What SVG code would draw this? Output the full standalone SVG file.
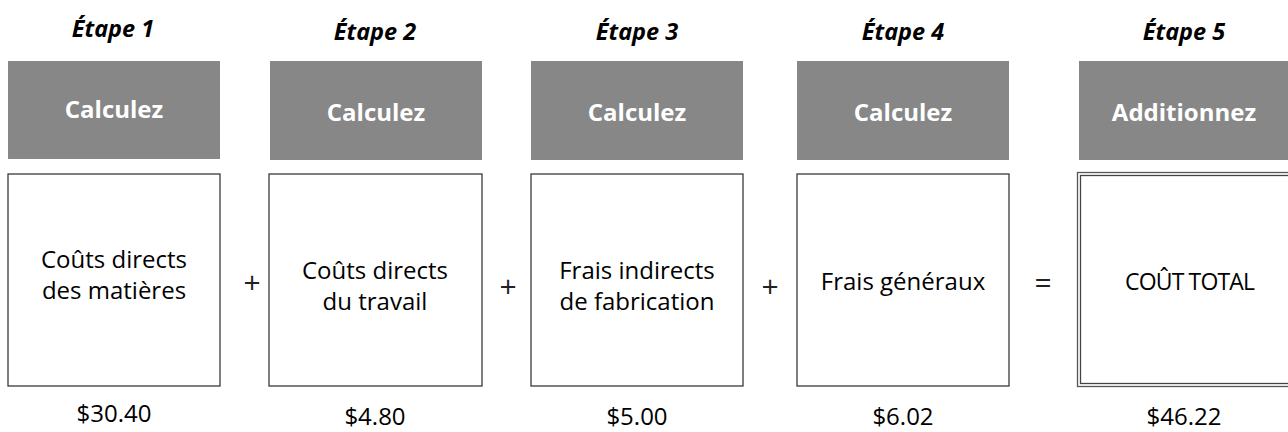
<svg xmlns="http://www.w3.org/2000/svg" width="1288" height="432" viewBox="0 0 1288 432">
<style>
.step{font-family:"Open Sans","Liberation Sans",sans-serif;font-size:23.5px;font-weight:bold;font-style:italic;fill:#000;text-anchor:middle}
.hdr{fill:#878787}
.hdrt{font-family:"Open Sans","Liberation Sans",sans-serif;font-size:24px;font-weight:bold;fill:#fff;text-anchor:middle}
.box{fill:#fff;stroke:#3a3a3a;stroke-width:1.3}
.txt{font-family:"Open Sans","Liberation Sans",sans-serif;font-size:24px;fill:#000;text-anchor:middle}
.op{font-family:"Open Sans","Liberation Sans",sans-serif;font-size:30px;fill:#222;text-anchor:middle}
</style>
<rect width="1288" height="432" fill="#fff"/>
<g id="step1">
<text class="step" x="113" y="37">Étape 1</text>
<rect class="hdr" x="8" y="61" width="212" height="98"/>
<text class="hdrt" x="114" y="118">Calculez</text>
<rect class="box" x="8" y="174" width="212" height="212"/>
<text class="txt" x="114" y="268">Coûts directs</text>
<text class="txt" x="114" y="299">des matières</text>
<text class="txt" x="114" y="422">$30.40</text>
</g>
<g id="step2">
<text class="step" x="375" y="40">Étape 2</text>
<rect class="hdr" x="270" y="61" width="212" height="99"/>
<text class="hdrt" x="376" y="121">Calculez</text>
<rect class="box" x="269" y="174" width="213" height="212"/>
<text class="txt" x="375" y="279">Coûts directs</text>
<text class="txt" x="375" y="310">du travail</text>
<text class="txt" x="375" y="425">$4.80</text>
</g>
<g id="step3">
<text class="step" x="637" y="40">Étape 3</text>
<rect class="hdr" x="531" y="61" width="212" height="99"/>
<text class="hdrt" x="637" y="121">Calculez</text>
<rect class="box" x="531" y="174" width="212" height="212"/>
<text class="txt" x="637" y="279">Frais indirects</text>
<text class="txt" x="637" y="310">de fabrication</text>
<text class="txt" x="637" y="425">$5.00</text>
</g>
<g id="step4">
<text class="step" x="903" y="40">Étape 4</text>
<rect class="hdr" x="797" y="61" width="212" height="99"/>
<text class="hdrt" x="903" y="121">Calculez</text>
<rect class="box" x="797" y="174" width="212" height="212"/>
<text class="txt" x="903" y="290">Frais généraux</text>
<text class="txt" x="903" y="425">$6.02</text>
</g>
<g id="step5">
<text class="step" x="1184" y="40">Étape 5</text>
<rect class="hdr" x="1079" y="61" width="215" height="99"/>
<text class="hdrt" x="1184" y="121">Additionnez</text>
<rect x="1077.5" y="172.5" width="220" height="214" fill="#fff" stroke="#555" stroke-width="1.3"/>
<rect x="1080.5" y="175.5" width="220" height="208" fill="none" stroke="#444" stroke-width="1.3"/>
<text class="txt" x="1190" y="290" style="font-size:23px" textLength="130" lengthAdjust="spacing">COÛT TOTAL</text>
<text class="txt" x="1184" y="425">$46.22</text>
</g>
<g id="connectors">
<text class="op" x="252" y="293">+</text>
<text class="op" x="508" y="297">+</text>
<text class="op" x="770" y="297">+</text>
<text class="op" x="1043" y="293">=</text>
</g>
</svg>
